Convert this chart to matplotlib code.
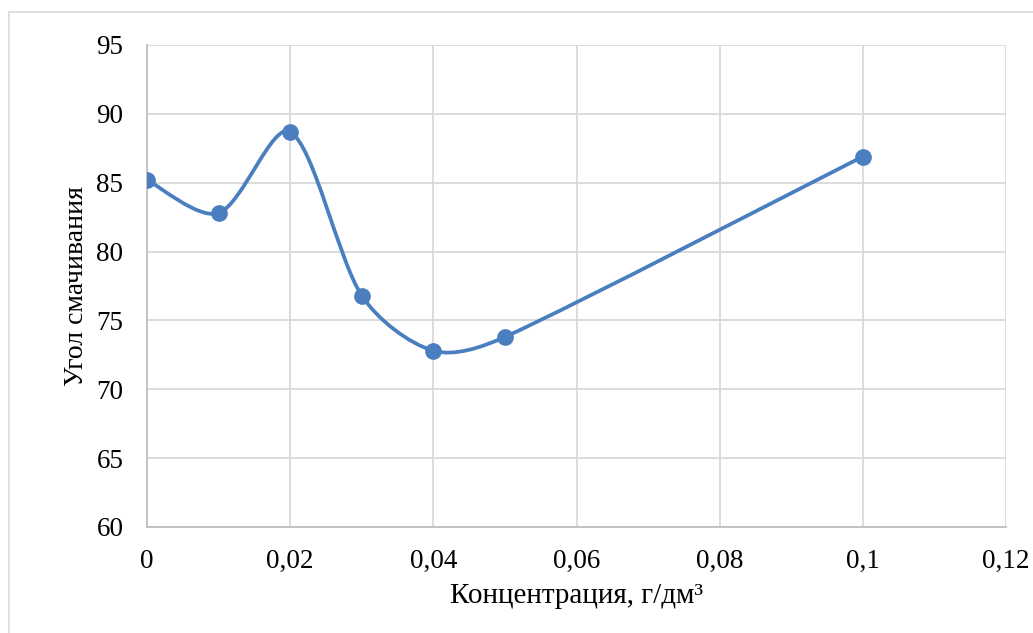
import numpy as np
import matplotlib
matplotlib.use("Agg")
import matplotlib.pyplot as plt
from matplotlib.path import Path
from matplotlib.patches import PathPatch, Rectangle

conc = [0.0, 0.01, 0.02, 0.03, 0.04, 0.05, 0.1]
angle = [85.2, 82.8, 88.7, 76.8, 72.8, 73.8, 86.9]
xticks = [0, 0.02, 0.04, 0.06, 0.08, 0.1, 0.12]
xticklabels = ["0", "0,02", "0,04", "0,06", "0,08", "0,1", "0,12"]
yticks = [60, 65, 70, 75, 80, 85, 90, 95]

plt.rcParams['font.family'] = ['Liberation Serif', 'DejaVu Serif']
color = '#4A7EBF'

fig = plt.figure(figsize=(10.33, 6.33), dpi=100)
fig.patches.append(Rectangle((9/1033, -0.1), 1.2, 1 - 12/633 + 0.1,
                             transform=fig.transFigure, fill=False,
                             edgecolor='#D9D9D9', linewidth=1.2))
ax = fig.add_axes([147/1033, 1 - 527/633, (1006 - 147)/1033, (527 - 45)/633])

ax.set_xlim(0, 0.12)
ax.set_ylim(60, 95)

# Excel-like smoothed curve (Bezier, 1/6 tangents limited on short segments)
aspect = 482 / 859
X = np.array(conc) / 0.12
Y = (np.array(angle) - 60) / 35.0 * aspect
P = np.column_stack([X, Y])
n = len(P)
d = [np.hypot(*(P[i + 1] - P[i])) for i in range(n - 1)]
verts = [tuple(P[0])]
codes = [Path.MOVETO]
for i in range(n - 1):
    p0 = P[i - 1] if i > 0 else P[i]
    p1 = P[i]
    p2 = P[i + 1]
    p3 = P[i + 2] if i + 2 < n else P[i + 1]
    f1 = 1.0 if i == 0 else min(1.0, 2 * d[i] / (d[i - 1] + d[i]))
    f2 = 1.0 if i + 2 >= n else min(1.0, 2 * d[i] / (d[i] + d[i + 1]))
    c1 = p1 + (p2 - p0) / 6.0 * f1
    c2 = p2 - (p3 - p1) / 6.0 * f2
    verts += [tuple(c1), tuple(c2), tuple(p2)]
    codes += [Path.CURVE4] * 3
verts = [(vx * 0.12, vy / aspect * 35.0 + 60) for vx, vy in verts]
ax.add_patch(PathPatch(Path(verts, codes), fill=False, edgecolor=color,
                       linewidth=2.7, capstyle='round', zorder=3))
ax.plot(conc, angle, linestyle='none', marker='o', markersize=11,
        color=color, zorder=4)

ax.set_xticks(xticks)
ax.set_xticklabels(xticklabels)
ax.set_yticks(yticks)
ax.grid(True, color='#D9D9D9', linewidth=1.3)
ax.set_axisbelow(True)
for s in ['top', 'right']:
    ax.spines[s].set_visible(False)
for s in ['left', 'bottom']:
    ax.spines[s].set_color('#BFBFBF')
    ax.spines[s].set_linewidth(1.3)
ax.tick_params(length=0, labelsize=19.5, colors='#000000')
ax.tick_params(axis='x', pad=16)
ax.tick_params(axis='y', pad=17)

ax.set_xlabel('Концентрация, г/дм³', fontsize=21, labelpad=6)
ax.set_ylabel('Угол смачивания', fontsize=20, labelpad=5)

fig.savefig('out.png', dpi=100)
